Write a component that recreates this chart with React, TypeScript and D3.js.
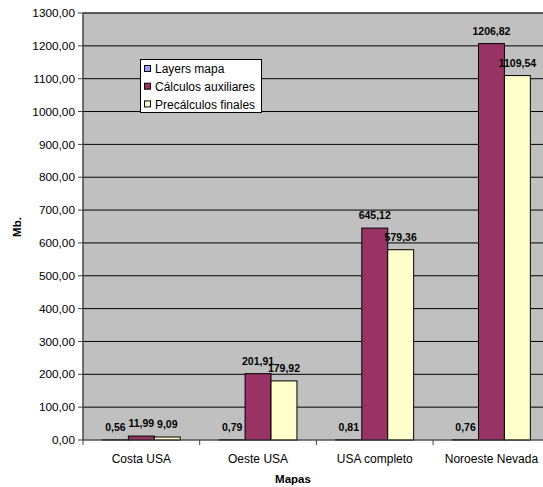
import React from "react";
import * as d3 from "d3";

const categories = ["Costa USA", "Oeste USA", "USA completo", "Noroeste Nevada"];
const seriesNames = ["Layers mapa", "Cálculos auxiliares", "Precálculos finales"];
const layersMapa = [0.56, 0.79, 0.81, 0.76];
const calculosAuxiliares = [11.99, 201.91, 645.12, 1206.82];
const precalculosFinales = [9.09, 179.92, 579.36, 1109.54];
const yTicks = d3.range(0, 1301, 100);
const seriesColors = ["#9999FF", "#993366", "#FFFFCC"];

const W = 543;
const H = 487;
const FONT = "'Liberation Sans', Arial, sans-serif";

const fmt = (v: number) => v.toFixed(2).replace(".", ",");

export default function App() {
  const left = 83;
  const top = 13;
  const bottom = 440;
  const band = 116.7;
  const right = left + band * categories.length;

  const x = d3.scaleBand<string>().domain(categories).range([left, right]).paddingInner(0).paddingOuter(0);
  const y = d3.scaleLinear().domain([0, 1300]).range([bottom, top]);

  const series = [layersMapa, calculosAuxiliares, precalculosFinales];
  const barW = x.bandwidth() / 4.5;
  const groupOffset = (x.bandwidth() - barW * 3) / 2;

  return (
    <svg
      width={W}
      height={H}
      style={{ position: "absolute", left: 0, top: 0, background: "#fff", fontFamily: FONT }}
    >
      {/* plot background */}
      <rect x={left} y={top} width={right - left} height={bottom - top} fill="#C0C0C0" stroke="#808080" strokeWidth={1} />

      {/* gridlines */}
      {yTicks.slice(1).map((t) => (
        <line key={t} x1={left} x2={right} y1={y(t)} y2={y(t)} stroke="#000" strokeWidth={1} />
      ))}

      {/* y axis */}
      <line x1={left} x2={left} y1={top} y2={bottom} stroke="#404040" strokeWidth={1.2} />
      {yTicks.map((t) => (
        <g key={t}>
          <line x1={left - 5} x2={left} y1={y(t)} y2={y(t)} stroke="#404040" />
          <text x={left - 8} y={y(t)} dy="0.35em" textAnchor="end" fontSize={11.8} fill="#000">
            {fmt(t)}
          </text>
        </g>
      ))}

      {/* bars */}
      {series.map((vals, si) =>
        vals.map((v, ci) => {
          const bx = (x(categories[ci]) as number) + groupOffset + si * barW;
          return (
            <rect
              key={`${si}-${ci}`}
              x={bx}
              y={y(v)}
              width={barW}
              height={bottom - y(v)}
              fill={seriesColors[si]}
              stroke="#000"
              strokeWidth={1}
            />
          );
        })
      )}

      {/* x axis */}
      <line x1={left} x2={right} y1={bottom} y2={bottom} stroke="#404040" strokeWidth={1.2} />
      {d3.range(categories.length + 1).map((i) => (
        <line key={i} x1={left + i * band} x2={left + i * band} y1={bottom} y2={bottom + 5} stroke="#404040" />
      ))}
      {categories.map((c) => (
        <text key={c} x={(x(c) as number) + x.bandwidth() / 2} y={463} textAnchor="middle" fontSize={12} fill="#000">
          {c}
        </text>
      ))}

      {/* value labels */}
      {series.map((vals, si) =>
        vals.map((v, ci) => {
          const bx = (x(categories[ci]) as number) + groupOffset + si * barW + barW / 2;
          return (
            <text
              key={`l${si}-${ci}`}
              x={bx}
              y={y(v) - 9}
              textAnchor="middle"
              fontSize={10.5}
              fontWeight="bold"
              fill="#000"
            >
              {fmt(v)}
            </text>
          );
        })
      )}

      {/* axis titles */}
      <text x={293} y={483} textAnchor="middle" fontSize={11.5} fontWeight="bold">
        Mapas
      </text>
      <text transform={`translate(21,227) rotate(-90)`} textAnchor="middle" fontSize={11.5} fontWeight="bold">
        Mb.
      </text>

      {/* legend */}
      <g>
        <rect x={140.5} y={59.5} width={121} height={53} fill="#fff" stroke="#000" strokeWidth={1} />
        {seriesNames.map((n, i) => (
          <g key={n}>
            <rect x={144.5} y={65.5 + i * 17.7} width={6} height={6} fill={seriesColors[i]} stroke="#000" strokeWidth={1} />
            <text x={155} y={69 + i * 17.7} dy="0.35em" fontSize={12} fill="#000">
              {n}
            </text>
          </g>
        ))}
      </g>
    </svg>
  );
}
